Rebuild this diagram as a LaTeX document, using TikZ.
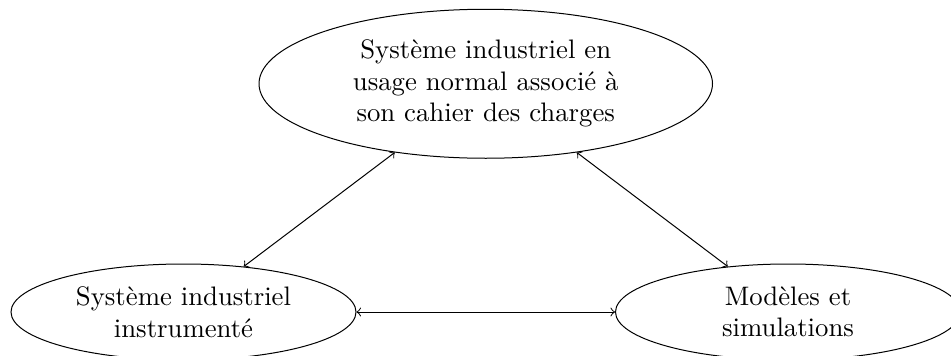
\documentclass[tikz,border=0pt]{standalone}
\usepackage{fontspec}
\usetikzlibrary{shapes.geometric}
\begin{document}
\begin{tikzpicture}[x=1pt,y=1pt,
  bulle/.style={draw,ellipse,inner sep=0pt,align=center,font=\fontsize{10.7}{12.6}\selectfont}]
  \useasboundingbox (0,0) rectangle (380.4,-142);
  \node[bulle,minimum width=181.4pt,minimum height=59.6pt] (systeme) at (194.3,-33.5) {Système industriel en\\usage normal associé à\\son cahier des charges};
  \node[bulle,minimum width=138pt,minimum height=38.4pt] (instrumente) at (73.4,-124.8) {Système industriel\\instrumenté};
  \node[bulle,minimum width=138pt,minimum height=38.4pt] (modeles) at (315.2,-124.8) {Modèles et\\simulations};
  \draw[<->] (instrumente)--(systeme);
  \draw[<->] (systeme)--(modeles);
  \draw[<->] (instrumente)--(modeles);
\end{tikzpicture}
\end{document}
